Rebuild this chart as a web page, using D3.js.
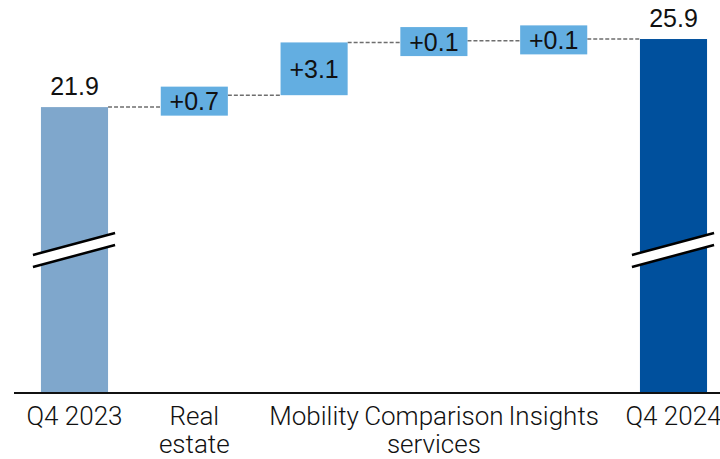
<!DOCTYPE html>
<html>
<head>
<meta charset="utf-8">
<script src="https://cdn.jsdelivr.net/npm/d3@7"></script>
<style>
  html, body { margin: 0; padding: 0; background: #fff; }
  svg { display: block; }
</style>
</head>
<body>
<svg id="chart" width="720" height="459"></svg>
<script>
// ---- data ----
const categories = ["Q4 2023", "Real estate", "Mobility", "Comparison services", "Insights", "Q4 2024"];
const tickLabels = [["Q4 2023"], ["Real", "estate"], ["Mobility"], ["Comparison", "services"], ["Insights"], ["Q4 2024"]];
const values = [21.9, 0.7, 3.1, 0.1, 0.1, 25.9];
const kinds = ["total", "delta", "delta", "delta", "delta", "total"];
const valueLabels = ["21.9", "+0.7", "+3.1", "+0.1", "+0.1", "25.9"];

// ---- build waterfall steps ----
let running = 0;
const steps = categories.map((c, i) => {
  let start, end;
  if (kinds[i] === "total") { start = 0; end = values[i]; running = values[i]; }
  else { start = running; end = running + values[i]; running = end; }
  return { cat: c, i, kind: kinds[i], start, end, label: valueLabels[i], lines: tickLabels[i] };
});

const svg = d3.select("#chart");
const axisY = 393;

const x = d3.scaleBand().domain(categories).range([14.6, 733.4]).paddingInner(0.44).paddingOuter(0.22);
const y = d3.scaleLinear().domain([5.1, 27.4]).range([axisY, 13.5]);
const bw = x.bandwidth();

const colors = { first: "#7fa7cc", delta: "#63aee1", last: "#00509d" };
function barColor(d) {
  if (d.kind === "delta") return colors.delta;
  return d.i === 0 ? colors.first : colors.last;
}

// connectors
const conn = svg.append("g");
for (let i = 0; i < steps.length - 1; i++) {
  const d = steps[i];
  const lvl = d.end;
  conn.append("line")
    .attr("x1", x(d.cat) + bw).attr("x2", x(steps[i + 1].cat))
    .attr("y1", y(lvl)).attr("y2", y(lvl))
    .attr("stroke", "#6e6e6e").attr("stroke-width", 1.5)
    .attr("stroke-dasharray", "4,2");
}

// total bars
const totals = steps.filter(d => d.kind === "total");
svg.append("g").selectAll("rect").data(totals).join("rect")
  .attr("x", d => x(d.cat)).attr("width", bw)
  .attr("y", d => y(d.end)).attr("height", d => axisY - y(d.end))
  .attr("fill", barColor);

// delta bars (box at least label height, centered on bar)
const deltas = steps.filter(d => d.kind === "delta");
const minBox = 29;
function boxGeom(d) {
  const top = y(d.end), bot = y(d.start);
  const h = Math.max(bot - top, minBox);
  const mid = (top + bot) / 2;
  return { top: mid - h / 2, h, mid };
}
svg.append("g").selectAll("rect").data(deltas).join("rect")
  .attr("x", d => x(d.cat)).attr("width", bw)
  .attr("y", d => boxGeom(d).top).attr("height", d => boxGeom(d).h)
  .attr("fill", colors.delta);

svg.append("g").selectAll("text").data(deltas).join("text")
  .attr("x", d => x(d.cat) + bw / 2)
  .attr("y", d => boxGeom(d).mid + 9)
  .attr("text-anchor", "middle")
  .attr("font-family", "Liberation Sans, Arial, sans-serif")
  .attr("font-size", 25).attr("fill", "#111")
  .text(d => d.label);

// total labels
svg.append("g").selectAll("text").data(totals).join("text")
  .attr("x", d => x(d.cat) + bw / 2)
  .attr("y", d => y(d.end) - 12)
  .attr("text-anchor", "middle")
  .attr("font-family", "Liberation Sans, Arial, sans-serif")
  .attr("font-size", 25).attr("fill", "#111")
  .text(d => d.label);

// axis break marks
const brk = svg.append("g");
totals.forEach(d => {
  const x0 = x(d.cat) - 8, x1 = x(d.cat) + bw + 7;
  const ya0 = 255, ya1 = 233, gap = 12;
  brk.append("polygon")
    .attr("points", `${x0},${ya0} ${x1},${ya1} ${x1},${ya1 + gap} ${x0},${ya0 + gap}`)
    .attr("fill", "#fff");
  [0, gap].forEach(o => {
    brk.append("line")
      .attr("x1", x0).attr("y1", ya0 + o).attr("x2", x1).attr("y2", ya1 + o)
      .attr("stroke", "#000").attr("stroke-width", 2.5);
  });
});

// x axis
svg.append("line").attr("x1", 14).attr("x2", 720).attr("y1", axisY).attr("y2", axisY)
  .attr("stroke", "#111").attr("stroke-width", 2);

const tl = svg.append("g").selectAll("text").data(steps).join("text")
  .attr("x", d => x(d.cat) + bw / 2)
  .attr("y", axisY + 32)
  .attr("text-anchor", "middle")
  .attr("font-family", "Roboto, Liberation Sans, sans-serif")
  .attr("font-weight", 300)
  .attr("font-size", 26).attr("fill", "#111");
tl.each(function (d) {
  const t = d3.select(this);
  d.lines.forEach((ln, k) => {
    t.append("tspan").attr("x", x(d.cat) + bw / 2).attr("dy", k === 0 ? 0 : 28).text(ln);
  });
});
</script>
</body>
</html>
